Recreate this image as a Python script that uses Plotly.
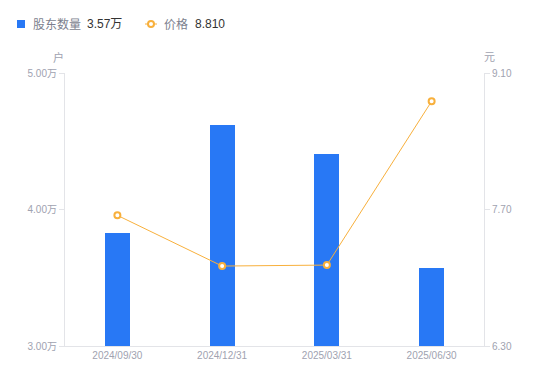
import plotly.graph_objects as go

categories = ["2024/09/30", "2024/12/31", "2025/03/31", "2025/06/30"]
holders = [3.83, 4.62, 4.41, 3.57]   # 万户
prices = [7.64, 7.12, 7.13, 8.81]    # 元
left_ticks = [3.0, 4.0, 5.0]
left_tick_text = ["3.00万", "4.00万", "5.00万"]
right_ticks = [6.30, 7.70, 9.10]
right_tick_text = ["6.30", "7.70", "9.10"]
legend_holders = "3.57万"
legend_price = "8.810"

BAR = "#2878f5"
LINE = "#f8b03c"
TICK = "#a0a2b0"
AXIS = "#e3e4e8"
LEG = "#7c7f8e"
DARK = "#333333"
FONT = "Liberation Sans, Arial, Noto Sans CJK SC, sans-serif"

fig = go.Figure()
fig.add_trace(go.Bar(
    x=categories, y=holders, width=0.24, marker_color=BAR,
    marker_line_width=0, name="股东数量", yaxis="y",
))
fig.add_trace(go.Scatter(
    x=categories, y=prices, mode="lines+markers",
    line=dict(color=LINE, width=1),
    marker=dict(symbol="circle", size=6, color="white", line=dict(color=LINE, width=2)),
    name="价格", yaxis="y2",
))

def ann(text, x, xshift, yshift, color, size=12, xanchor="left"):
    return dict(text=text, xref="paper", yref="paper", x=x, y=1, xanchor=xanchor,
                yanchor="middle", xshift=xshift, yshift=yshift, showarrow=False,
                font=dict(size=size, color=color, family=FONT))

fig.update_layout(
    width=542, height=373,
    margin=dict(l=57, r=66, t=65, b=35),
    paper_bgcolor="white", plot_bgcolor="white",
    font=dict(family=FONT, size=10, color=TICK),
    showlegend=False,
    bargap=0,
    xaxis=dict(
        showline=True, linecolor=AXIS, linewidth=1, showgrid=False,
        ticks="", tickfont=dict(size=10, color=TICK), zeroline=False,
    ),
    yaxis=dict(
        range=[3.0, 5.0], tickvals=left_ticks, ticktext=left_tick_text,
        showline=True, linecolor=AXIS, linewidth=1, showgrid=False, zeroline=False,
        ticks="outside", ticklen=5, tickcolor=AXIS, tickfont=dict(size=10, color=TICK),
    ),
    yaxis2=dict(
        range=[6.30, 9.10], tickvals=right_ticks, ticktext=right_tick_text,
        overlaying="y", side="right",
        showline=True, linecolor=AXIS, linewidth=1, showgrid=False, zeroline=False,
        ticks="outside", ticklen=5, tickcolor=AXIS, tickfont=dict(size=10, color=TICK),
    ),
    shapes=[
        dict(type="rect", xref="paper", yref="paper", xsizemode="pixel", ysizemode="pixel",
             xanchor=0, yanchor=1, x0=-48, x1=-40, y0=45, y1=53,
             fillcolor=BAR, line=dict(width=0)),
        dict(type="line", xref="paper", yref="paper", xsizemode="pixel", ysizemode="pixel",
             xanchor=0, yanchor=1, x0=80, x1=92, y0=49, y1=49,
             line=dict(color=LINE, width=1)),
        dict(type="circle", xref="paper", yref="paper", xsizemode="pixel", ysizemode="pixel",
             xanchor=0, yanchor=1, x0=83, x1=89, y0=46, y1=52,
             fillcolor="white", line=dict(color=LINE, width=2)),
    ],
    annotations=[
        ann("股东数量", 0, -34, 49, LEG),
        ann(legend_holders, 0, 20, 49, DARK),
        ann("价格", 0, 97, 49, LEG),
        ann(legend_price, 0, 128, 49, DARK),
        ann("户", 0, -7, 16, TICK, size=11, xanchor="center"),
        ann("元", 1, 5, 16, TICK, size=11, xanchor="center"),
    ],
)

fig.write_html("out.html")
